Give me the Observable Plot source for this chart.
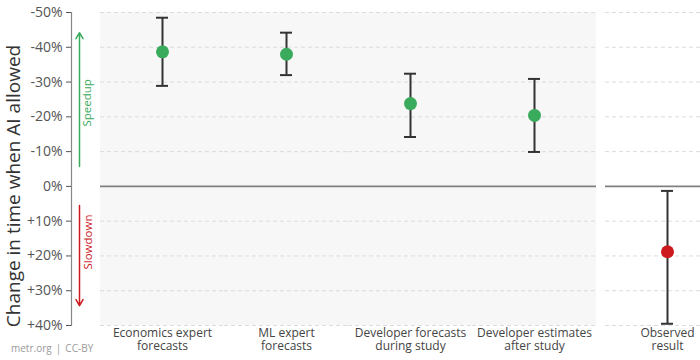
<!DOCTYPE html>
<html><head><meta charset="utf-8">
<script src="https://cdn.jsdelivr.net/npm/d3@7"></script>
<script src="https://cdn.jsdelivr.net/npm/@observablehq/plot@0.6"></script>
<style>
html,body{margin:0;padding:0;background:#fff;overflow:hidden;}
#wrap{position:relative;width:700px;height:360px;overflow:hidden;font-family:"Open Sans",sans-serif;}
#main,#obs{position:absolute;top:0;}
#main{left:0;width:596px}
#obs{left:605px;width:124px}
#wrap svg{max-width:none !important;}
#caption{position:absolute;left:11px;top:341px;font-size:10px;color:#9a9a9a;white-space:pre;word-spacing:1.5px;}
</style></head><body>
<div id="wrap"><div id="main"></div><div id="obs"></div><div id="caption">metr.org | CC-BY</div></div>
<script>
// ---- data ----
const categories = ["Economics expert\nforecasts", "ML expert\nforecasts", "Developer forecasts\nduring study", "Developer estimates\nafter study"];
const estimates = [-38.7, -38.0, -23.8, -20.4];
const lowerBounds = [-48.5, -44.2, -32.4, -30.9];
const upperBounds = [-28.9, -32.0, -14.2, -9.9];
const observedCategory = ["Observed\nresult"];
const observedEstimate = [18.8];
const observedLower = [1.3];
const observedUpper = [39.5];
const yTicks = [-50, -40, -30, -20, -10, 0, 10, 20, 30, 40];
const speedupArrow = [{from: -5.7, to: -44.2, label: "Speedup", mid: -24}];
const slowdownArrow = [{from: 5.5, to: 34.3, label: "Slowdown", mid: 16}];
const yTitle = "Change in time when AI allowed";

// ---- derived tables ----
const mainData = categories.map((c, i) => ({cat: c, mid: estimates[i], lo: lowerBounds[i], hi: upperBounds[i]}));
const obsData = observedCategory.map((c, i) => ({cat: c, mid: observedEstimate[i], lo: observedLower[i], hi: observedUpper[i]}));
const gridVals = yTicks.filter(v => v !== 0);
const yDomain = [yTicks[0], yTicks[yTicks.length - 1]];
const fmt = v => v > 0 ? `+${v}%` : `${v}%`;

const GREEN = "#3aaa5c", RED = "#cc1a1f", BG = "#f7f7f7", GRID = "#dcdcdc", ZERO = "#808080", BAR = "#333";
const H = 360, MT = 12, MB = 35;

function panelMarks(cats, data, color) {
  const grid = cats.flatMap(c => gridVals.map(v => ({cat: c, v})));
  return [
    Plot.tickY(grid, {x: "cat", y: "v", stroke: GRID, strokeWidth: 1, strokeDasharray: "4,3"}),
    Plot.tickY(cats, {x: d => d, y: () => 0, stroke: ZERO, strokeWidth: 1.6}),
    Plot.ruleX(data, {x: "cat", y1: "lo", y2: "hi", stroke: BAR, strokeWidth: 2}),
    Plot.tickY(data, {x: "cat", y: "lo", stroke: BAR, strokeWidth: 2, insetLeft: 56, insetRight: 56}),
    Plot.tickY(data, {x: "cat", y: "hi", stroke: BAR, strokeWidth: 2, insetLeft: 56, insetRight: 56}),
    Plot.dot(data, {x: "cat", y: "mid", r: 6.5, fill: color, stroke: "none"}),
    Plot.axisX({tickSize: 0, tickPadding: 2, fontSize: 12, lineHeight: 1.12, color: "#444", label: null})
  ];
}

const main = Plot.plot({
  width: 596, height: H, marginTop: MT, marginBottom: MB, marginLeft: 71, marginRight: 0,
  style: {fontFamily: "'Open Sans', sans-serif", color: "#555", background: "transparent"},
  x: {type: "band", domain: categories, range: [100, 596], padding: 0, label: null},
  y: {domain: yDomain, reverse: true, label: null},
  marks: [
    Plot.barY(categories, {x: d => d, y1: () => yDomain[0], y2: () => yDomain[1], fill: BG, inset: 0}),
    ...panelMarks(categories, mainData, GREEN),
    Plot.frame({anchor: "left", stroke: "#888", strokeWidth: 1.2}),
    Plot.axisY(yTicks, {tickSize: 5, tickPadding: 4, tickFormat: fmt, fontSize: 14, color: "#555", label: null}),
    Plot.arrow(speedupArrow, {x: () => categories[0], y1: "from", y2: "to", stroke: GREEN, strokeWidth: 1.5, headLength: 7, dx: -83}),
    Plot.arrow(slowdownArrow, {x: () => categories[0], y1: "from", y2: "to", stroke: RED, strokeWidth: 1.5, headLength: 7, dx: -83}),
    Plot.text(speedupArrow, {y: "mid", text: "label", frameAnchor: "left", textAnchor: "middle", dx: 16, rotate: -90, fill: GREEN, fontSize: 11.5}),
    Plot.text(slowdownArrow, {y: "mid", text: "label", frameAnchor: "left", textAnchor: "middle", dx: 17, rotate: -90, fill: RED, fontSize: 11.5}),
    Plot.text([yTitle], {text: d => d, frameAnchor: "left", textAnchor: "middle", dx: -58, dy: 17, rotate: -90, fill: "#333", fontSize: 19})
  ]
});
document.getElementById("main").appendChild(main);

const obs = Plot.plot({
  width: 124, height: H, marginTop: MT, marginBottom: MB, marginLeft: 0, marginRight: 0,
  style: {fontFamily: "'Open Sans', sans-serif", color: "#555", background: "transparent"},
  x: {type: "band", domain: observedCategory, range: [0, 124], padding: 0, label: null},
  y: {domain: yDomain, reverse: true, label: null, axis: null},
  marks: panelMarks(observedCategory, obsData, RED)
});
document.getElementById("obs").appendChild(obs);
</script>
</body></html>
